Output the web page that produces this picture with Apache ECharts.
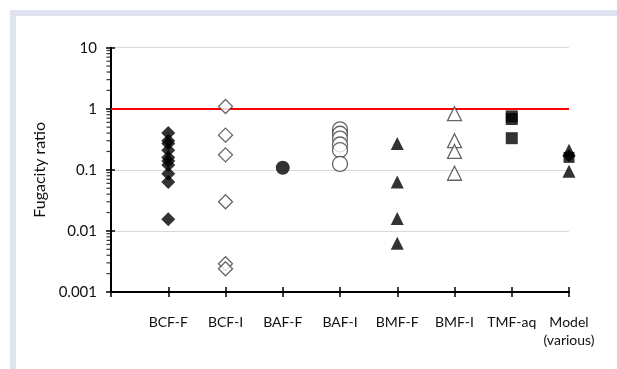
<!DOCTYPE html>
<html><head><meta charset="utf-8">
<script src="https://cdn.jsdelivr.net/npm/echarts@6/dist/echarts.min.js"></script>
<style>html,body{margin:0;padding:0;background:#fff}#c{width:617px;height:369px}</style>
</head><body><div id="c"></div>
<script>
const categories = ['BCF-F','BCF-I','BAF-F','BAF-I','BMF-F','BMF-I','TMF-aq','Model\n(various)'];
const yTicks = [0.001, 0.01, 0.1, 1, 10];
const minorTicks = [0.002,0.003,0.004,0.005,0.006,0.007,0.008,0.009,
                    0.02,0.03,0.04,0.05,0.06,0.07,0.08,0.09,
                    0.2,0.3,0.4,0.5,0.6,0.7,0.8,0.9,
                    2,3,4,5,6,7,8,9];
const bcfF = [0.40, 0.30, 0.27, 0.21, 0.16, 0.14, 0.12, 0.086, 0.063, 0.0155];
const bcfI = [1.09, 0.37, 0.176, 0.030, 0.0029, 0.0024];
const bafF = [0.108];
const bafI = [0.46, 0.39, 0.325, 0.26, 0.21, 0.125];
const bmfF = [0.27, 0.063, 0.016, 0.0063];
const bmfI = [0.83, 0.30, 0.20, 0.088];
const tmfAq = [0.75, 0.68, 0.33];
const modelTri = [0.21, 0.095];
const modelDiamond = [0.17];
const modelSquare = [0.16];
const threshold = 1;

function pts(idx, arr){ return arr.map(v => [idx, v]); }
const F = 'Lato, "Liberation Sans", sans-serif';
const filled = {color:'#000'};
const open = {color:'#fff', borderColor:'#404040', borderWidth:1.3};

const chart = echarts.init(document.getElementById('c'));
chart.setOption({
  animation:false,
  backgroundColor:'#fff',
  graphic:[
    {type:'rect', shape:{x:10,y:10,width:607,height:6}, style:{fill:'#dfe3f0'}, silent:true},
    {type:'rect', shape:{x:10,y:10,width:6,height:359}, style:{fill:'#dfe3f0'}, silent:true}
  ],
  grid:{left:111, right:48, top:47.7, bottom:77},
  xAxis:[{
    type:'value', min:0, max:8, interval:1,
    axisLine:{show:true, onZero:false, lineStyle:{color:'#000', width:2}},
    axisTick:{show:true, length:5, lineStyle:{color:'#000', width:1.5}},
    splitLine:{show:false},
    axisLabel:{margin:21, fontFamily:F, fontSize:14, color:'#111', lineHeight:18,
      formatter: v => (v>=1 && v<=8) ? categories[v-1] : ''}
  },{
    type:'value', min:0, max:8, interval:1, position:'bottom',
    axisLine:{show:false}, axisTick:{show:true, inside:true, length:5, lineStyle:{color:'#000', width:1.5}},
    axisLabel:{show:false}, splitLine:{show:false}
  }],
  yAxis:[{
    type:'log', logBase:10, min:0.001, max:10,
    name:'Fugacity ratio', nameLocation:'middle', nameGap:58, nameRotate:90,
    nameTextStyle:{fontFamily:F, fontSize:16, color:'#111'},
    axisLine:{show:true, onZero:false, lineStyle:{color:'#000', width:2}},
    axisTick:{show:true, length:5, lineStyle:{color:'#000', width:1.5}},
    minorTick:{show:false},
    splitLine:{show:true, lineStyle:{color:'#d9d9d9', width:1}},
    axisLabel:{margin:14, fontFamily:F, fontSize:15, color:'#111',
      formatter: v => { const t = yTicks.find(x => Math.abs(Math.log10(x)-Math.log10(v))<1e-6); return t===undefined?'':String(t); }}
  },{
    type:'log', logBase:10, min:0.001, max:10, position:'left',
    axisLine:{show:false}, axisTick:{show:true, inside:true, length:4, lineStyle:{color:'#000', width:1.5}},
    axisLabel:{show:false}, splitLine:{show:false}
  }],
  series:[
    {type:'scatter', name:'minor', data:pts(0,minorTicks), symbol:'rect', symbolSize:[4,1.2], symbolOffset:[-2.5,0],
     itemStyle:{color:'#000'}, silent:true, clip:false, z:1},
    {type:'scatter', name:'BCF-F', data:pts(1,bcfF), symbol:'diamond', symbolSize:14, itemStyle:filled, z:3,
     markLine:{silent:true, symbol:'none', label:{show:false}, lineStyle:{color:'#ff0000', width:2, type:'solid'}, data:[{yAxis:threshold}], z:2}},
    {type:'scatter', name:'BCF-I', data:pts(2,bcfI), symbol:'diamond', symbolSize:14, itemStyle:open, z:3},
    {type:'scatter', name:'BAF-F', data:pts(3,bafF), symbol:'circle', symbolSize:14, itemStyle:filled, z:3},
    {type:'scatter', name:'BAF-I', data:pts(4,bafI), symbol:'circle', symbolSize:15, itemStyle:open, z:3},
    {type:'scatter', name:'BMF-F', data:pts(5,bmfF), symbol:'triangle', symbolSize:13, itemStyle:filled, z:3},
    {type:'scatter', name:'BMF-I', data:pts(6,bmfI), symbol:'triangle', symbolSize:14, itemStyle:open, z:3},
    {type:'scatter', name:'TMF-aq', data:pts(7,tmfAq), symbol:'rect', symbolSize:12, itemStyle:filled, z:3},
    {type:'scatter', name:'Model-sq', data:pts(8,modelSquare), symbol:'rect', symbolSize:11, itemStyle:filled, z:3},
    {type:'scatter', name:'Model-di', data:pts(8,modelDiamond), symbol:'diamond', symbolSize:13, itemStyle:filled, z:3},
    {type:'scatter', name:'Model-tri', data:pts(8,modelTri), symbol:'triangle', symbolSize:13, itemStyle:filled, z:3}
  ]
});
</script></body></html>
